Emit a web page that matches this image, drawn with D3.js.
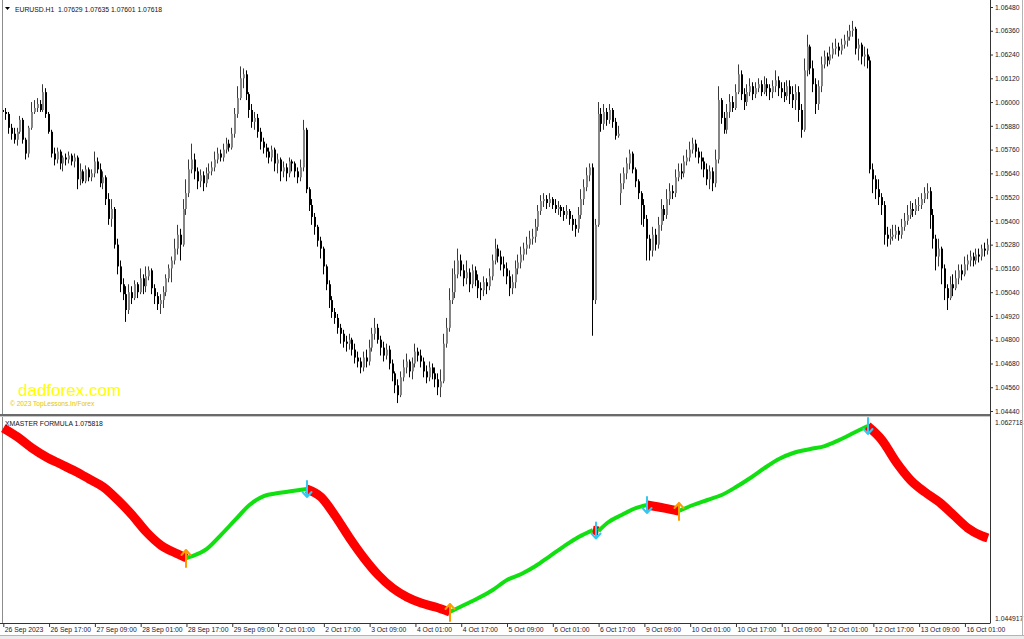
<!DOCTYPE html>
<html>
<head>
<meta charset="utf-8">
<script src="https://cdn.jsdelivr.net/npm/d3@7/dist/d3.min.js"></script>
<style>
  body { margin: 0; background: #fff; overflow: hidden; }
  svg { display: block; font-family: "Liberation Sans", Arial, sans-serif; }
</style>
</head>
<body>
<div id="chart"></div>
<script>
// EURUSD H1, 26 Sep - 16 Oct 2023
const firstOpen = 1.0596;
const gapOpens = { 216: 1.0554 }; // Monday 9 Oct gap

const closes = [
  1.0595,1.0594,1.0587,1.0584,1.0581,1.0585,1.0591,1.0581,1.0574,1.0587,
  1.0595,1.0597,1.0599,1.0596,1.0605,1.0594,1.0585,1.0574,1.0571,1.0575,
  1.0569,1.0572,1.0571,1.0573,1.0570,1.0572,1.0561,1.0565,1.0560,1.0566,
  1.0562,1.0564,1.0570,1.0566,1.0559,1.0562,1.0551,1.0541,1.0546,1.0528,
  1.0517,1.0508,1.0503,1.0495,1.0504,1.0501,1.0508,1.0504,1.0511,1.0507,
  1.0512,1.0515,1.0506,1.0502,1.0498,1.0500,1.0504,1.0511,1.0516,1.0520,1.0526,
  1.0533,1.0528,1.0546,1.0554,1.0566,1.0571,1.0565,1.0560,1.0563,1.0559,
  1.0564,1.0565,1.0567,1.0571,1.0574,1.0572,1.0576,1.0579,1.0577,1.0584,
  1.0594,1.0602,1.0612,1.0614,1.0604,1.0596,1.0590,1.0592,1.0585,1.0580,
  1.0577,1.0575,1.0572,1.0576,1.0569,1.0571,1.0565,1.0567,1.0564,1.0570,
  1.0569,1.0565,1.0562,1.0567,1.0586,1.0556,1.0548,1.0542,1.0537,1.0530,
  1.0526,1.0517,1.0508,1.0500,1.0494,1.0491,1.0486,1.0483,1.0479,1.0478,
  1.0480,1.0475,1.0471,1.0469,1.0466,1.0471,1.0469,1.0476,1.0483,1.0486,
  1.0480,1.0476,1.0472,1.0475,1.0468,1.0463,1.0457,1.0452,1.0461,1.0466,
  1.0469,1.0464,1.0468,1.0474,1.0472,1.0469,1.0464,1.0461,1.0466,1.0463,
  1.0460,1.0456,1.0459,1.0478,1.0486,1.0500,1.0504,1.0513,1.0520,1.0515,
  1.0511,1.0514,1.0508,1.0515,1.0510,1.0506,1.0505,1.0509,1.0507,1.0512,
  1.0520,1.0526,1.0522,1.0518,1.0516,1.0512,1.0506,1.0509,1.0516,1.0519,
  1.0523,1.0526,1.0528,1.0531,1.0532,1.0537,1.0545,1.0550,1.0551,1.0549,
  1.0551,1.0548,1.0546,1.0547,1.0545,1.0543,1.0545,1.0541,1.0538,1.0536,
  1.0543,1.0551,1.0557,1.0563,1.0567,1.0500,1.0538,1.0594,1.0589,1.0595,
  1.0591,1.0596,1.0590,1.0583,1.0584,1.0559,1.0564,1.0569,1.0574,1.0566,
  1.0560,1.0554,1.0548,1.0541,1.0531,1.0525,1.0533,1.0528,1.0538,1.0546,
  1.0543,1.0551,1.0555,1.0554,1.0562,1.0565,1.0564,1.0570,1.0572,1.0576,
  1.0579,1.0575,1.0572,1.0570,1.0566,1.0561,1.0565,1.0559,1.0571,1.0601,
  1.0592,1.0586,1.0595,1.0600,1.0597,1.0605,1.0614,1.0604,1.0600,1.0605,
  1.0608,1.0604,1.0607,1.0609,1.0605,1.0609,1.0607,1.0605,1.0608,1.0611,
  1.0607,1.0605,1.0603,1.0608,1.0604,1.0601,1.0605,1.0596,1.0586,1.0616,1.0628,
  1.0617,1.0609,1.0599,1.0608,1.0619,1.0623,1.0621,1.0624,1.0627,1.0628,
  1.0626,1.0629,1.0631,1.0633,1.0636,1.0637,1.0627,1.0629,1.0623,1.0624,
  1.0621,1.0566,1.0561,1.0556,1.0552,1.0548,1.0533,1.0531,1.0532,1.0533,
  1.0535,1.0533,1.0537,1.0540,1.0543,1.0546,1.0545,1.0548,1.0548,1.0551,
  1.0554,1.0555,1.0543,1.0531,1.0522,1.0526,1.0516,1.0506,1.0501,1.0508,
  1.0506,1.0511,1.0515,1.0513,1.0518,1.0520,1.0522,1.0520,1.0523,1.0522,
  1.0526,1.0525,1.0528
];

const highs = [
  1.0598,1.0597,1.0595,1.0589,1.0587,1.0587,1.0593,1.0592,1.0582,1.0588,
  1.0600,1.0601,1.0602,1.0601,1.0609,1.0607,1.0595,1.0586,1.0577,1.0577,
  1.0576,1.0573,1.0574,1.0575,1.0574,1.0574,1.0573,1.0569,1.0566,1.0568,
  1.0567,1.0566,1.0575,1.0572,1.0569,1.0565,1.0563,1.0554,1.0551,1.0547,
  1.0531,1.0520,1.0511,1.0507,1.0508,1.0507,1.0510,1.0509,1.0516,1.0513,
  1.0517,1.0517,1.0516,1.0508,1.0504,1.0503,1.0507,1.0513,1.0518,1.0522,1.0531,
  1.0538,1.0536,1.0551,1.0561,1.0571,1.0579,1.0574,1.0567,1.0566,1.0565,
  1.0567,1.0569,1.0570,1.0575,1.0577,1.0576,1.0579,1.0582,1.0581,1.0587,
  1.0597,1.0608,1.0618,1.0617,1.0616,1.0605,1.0599,1.0595,1.0594,1.0587,
  1.0582,1.0579,1.0577,1.0578,1.0577,1.0574,1.0572,1.0570,1.0569,1.0572,
  1.0571,1.0570,1.0567,1.0571,1.0591,1.0587,1.0557,1.0551,1.0544,1.0538,
  1.0532,1.0527,1.0518,1.0510,1.0502,1.0496,1.0493,1.0488,1.0485,1.0482,
  1.0483,1.0481,1.0478,1.0474,1.0471,1.0474,1.0475,1.0480,1.0486,1.0491,
  1.0488,1.0482,1.0479,1.0478,1.0477,1.0470,1.0464,1.0460,1.0464,1.0470,
  1.0473,1.0470,1.0471,1.0478,1.0476,1.0475,1.0471,1.0467,1.0469,1.0468,
  1.0466,1.0463,1.0465,1.0483,1.0491,1.0506,1.0516,1.0520,1.0526,1.0523,
  1.0518,1.0520,1.0516,1.0518,1.0517,1.0513,1.0509,1.0512,1.0511,1.0516,
  1.0523,1.0531,1.0528,1.0525,1.0522,1.0519,1.0515,1.0513,1.0520,1.0523,
  1.0527,1.0529,1.0532,1.0535,1.0536,1.0541,1.0548,1.0553,1.0554,1.0553,
  1.0554,1.0552,1.0551,1.0550,1.0548,1.0547,1.0548,1.0546,1.0543,1.0541,
  1.0547,1.0556,1.0561,1.0567,1.0569,1.0569,1.0541,1.0600,1.0597,1.0599,
  1.0597,1.0599,1.0597,1.0592,1.0588,1.0564,1.0567,1.0572,1.0576,1.0575,
  1.0567,1.0561,1.0555,1.0551,1.0543,1.0533,1.0537,1.0536,1.0542,1.0551,
  1.0548,1.0556,1.0559,1.0558,1.0566,1.0569,1.0569,1.0573,1.0576,1.0580,
  1.0582,1.0581,1.0577,1.0575,1.0572,1.0569,1.0568,1.0567,1.0576,1.0608,
  1.0602,1.0595,1.0599,1.0604,1.0603,1.0609,1.0619,1.0616,1.0607,1.0609,
  1.0612,1.0610,1.0610,1.0612,1.0611,1.0613,1.0612,1.0609,1.0611,1.0616,
  1.0613,1.0610,1.0610,1.0611,1.0611,1.0608,1.0609,1.0608,1.0599,1.0622,1.0634,
  1.0629,1.0621,1.0612,1.0611,1.0623,1.0626,1.0625,1.0628,1.0630,1.0632,
  1.0630,1.0632,1.0634,1.0636,1.0639,1.0641,1.0638,1.0632,1.0630,1.0628,
  1.0627,1.0623,1.0569,1.0563,1.0561,1.0554,1.0550,1.0537,1.0536,1.0538,
  1.0538,1.0537,1.0541,1.0544,1.0548,1.0550,1.0549,1.0551,1.0552,1.0554,
  1.0557,1.0559,1.0557,1.0546,1.0533,1.0531,1.0527,1.0518,1.0508,1.0512,
  1.0513,1.0515,1.0518,1.0518,1.0522,1.0523,1.0525,1.0524,1.0526,1.0526,
  1.0528,1.0529,1.0531
];

const lows = [
  1.0592,1.0591,1.0584,1.0581,1.0579,1.0578,1.0584,1.0579,1.0571,1.0572,
  1.0586,1.0594,1.0595,1.0595,1.0595,1.0592,1.0584,1.0572,1.0568,1.0569,
  1.0566,1.0565,1.0568,1.0569,1.0568,1.0567,1.0556,1.0558,1.0559,1.0559,
  1.0560,1.0560,1.0562,1.0564,1.0557,1.0556,1.0548,1.0538,1.0537,1.0526,
  1.0513,1.0504,1.0500,1.0489,1.0493,1.0498,1.0500,1.0501,1.0503,1.0503,
  1.0504,1.0510,1.0503,1.0498,1.0495,1.0493,1.0496,1.0502,1.0509,1.0509,1.0518,
  1.0523,1.0520,1.0527,1.0543,1.0552,1.0564,1.0561,1.0556,1.0557,1.0555,
  1.0557,1.0561,1.0563,1.0565,1.0569,1.0570,1.0570,1.0574,1.0575,1.0576,
  1.0582,1.0592,1.0601,1.0607,1.0601,1.0592,1.0587,1.0586,1.0582,1.0576,
  1.0574,1.0572,1.0569,1.0570,1.0565,1.0564,1.0560,1.0562,1.0560,1.0562,
  1.0565,1.0562,1.0559,1.0560,1.0565,1.0554,1.0545,1.0538,1.0533,1.0527,
  1.0521,1.0513,1.0505,1.0496,1.0491,1.0488,1.0483,1.0478,1.0476,1.0474,
  1.0475,1.0472,1.0468,1.0466,1.0463,1.0464,1.0466,1.0467,1.0474,1.0480,
  1.0478,1.0472,1.0469,1.0470,1.0465,1.0459,1.0453,1.0448,1.0451,1.0459,
  1.0463,1.0461,1.0460,1.0466,1.0469,1.0466,1.0461,1.0458,1.0459,1.0460,
  1.0456,1.0452,1.0451,1.0458,1.0476,1.0484,1.0498,1.0501,1.0511,1.0512,
  1.0507,1.0508,1.0504,1.0506,1.0507,1.0501,1.0500,1.0502,1.0503,1.0505,
  1.0510,1.0518,1.0519,1.0515,1.0512,1.0508,1.0502,1.0503,1.0506,1.0513,
  1.0516,1.0520,1.0523,1.0526,1.0528,1.0529,1.0535,1.0543,1.0547,1.0546,
  1.0547,1.0546,1.0544,1.0543,1.0542,1.0540,1.0541,1.0538,1.0535,1.0532,
  1.0534,1.0541,1.0548,1.0555,1.0560,1.0482,1.0498,1.0537,1.0585,1.0586,
  1.0588,1.0589,1.0587,1.0581,1.0582,1.0548,1.0556,1.0561,1.0566,1.0564,
  1.0557,1.0551,1.0538,1.0537,1.0520,1.0520,1.0522,1.0525,1.0526,1.0535,
  1.0540,1.0541,1.0548,1.0551,1.0552,1.0560,1.0561,1.0562,1.0568,1.0570,
  1.0574,1.0572,1.0569,1.0566,1.0562,1.0558,1.0556,1.0555,1.0557,1.0569,
  1.0589,1.0584,1.0584,1.0592,1.0595,1.0596,1.0604,1.0601,1.0596,1.0598,
  1.0603,1.0601,1.0602,1.0605,1.0603,1.0604,1.0603,1.0601,1.0602,1.0605,
  1.0603,1.0602,1.0600,1.0601,1.0599,1.0597,1.0596,1.0590,1.0582,1.0585,1.0613,
  1.0614,1.0605,1.0594,1.0596,1.0605,1.0617,1.0618,1.0619,1.0622,1.0624,
  1.0623,1.0624,1.0627,1.0628,1.0631,1.0633,1.0624,1.0621,1.0619,1.0618,
  1.0617,1.0564,1.0554,1.0551,1.0548,1.0543,1.0528,1.0527,1.0528,1.0530,
  1.0531,1.0530,1.0531,1.0535,1.0538,1.0541,1.0542,1.0543,1.0545,1.0546,
  1.0549,1.0551,1.0536,1.0526,1.0515,1.0517,1.0508,1.0500,1.0495,1.0500,
  1.0502,1.0505,1.0508,1.0510,1.0512,1.0515,1.0517,1.0517,1.0518,1.0519,
  1.0520,1.0522,1.0523
];

// XMASTER FORMULA line, sampled at these bars
const indBars = [
  0,5,10,15,20,25,30,35,40,45,50,55,61,64,66,71,76,81,86,91,
  96,101,106,111,116,121,126,131,136,141,146,151,156,161,166,171,176,181,186,191,
  196,201,206,208,211,216,221,225,231,236,241,246,251,256,261,266,271,276,282,287,
  292,297,302,307,312,317,322,327,332,337,342,344
];
const indValues = [
  1.06192,1.06113,1.06016,1.05937,1.05875,1.05813,1.05743,1.05672,1.05558,1.05426,
  1.05276,1.05161,1.05082,1.05047,1.05064,1.05126,1.05249,1.05382,1.05514,1.05593,
  1.05619,1.05637,1.05655,1.05584,1.05417,1.05223,1.05047,1.04897,1.04782,1.04703,
  1.04650,1.04615,1.04571,1.04633,1.04694,1.04765,1.04853,1.04906,1.04976,1.05064,
  1.05152,1.05232,1.05293,1.05285,1.05355,1.05426,1.05487,1.05514,1.05487,1.05461,
  1.05514,1.05558,1.05602,1.05672,1.05752,1.05840,1.05919,1.05972,1.06007,1.06033,
  1.06086,1.06148,1.06210,1.06086,1.05892,1.05734,1.05628,1.05540,1.05426,1.05311,
  1.05241,1.05223
];
const upArrowBars = [64, 156, 236];
const downArrowBars = [106, 207, 225, 302];

const priceTicks = [1.0444,1.0456,1.0468,1.0480,1.0492,1.0504,1.0516,1.0528,1.0540,
  1.0552,1.0564,1.0576,1.0588,1.0600,1.0612,1.0624,1.0636,1.0648];
const indMax = 1.062718;
const indMin = 1.044917;

const timeTickBars = [0,16,32,48,64,80,96,112,128,144,160,176,192,208,224,240,256,272,288,304,320,336];
const timeLabels = ['26 Sep 2023','26 Sep 17:00','27 Sep 09:00','28 Sep 01:00','28 Sep 17:00',
  '29 Sep 09:00','2 Oct 01:00','2 Oct 17:00','3 Oct 09:00','4 Oct 01:00','4 Oct 17:00',
  '5 Oct 09:00','6 Oct 01:00','6 Oct 17:00','9 Oct 09:00','10 Oct 01:00','10 Oct 17:00',
  '11 Oct 09:00','12 Oct 01:00','12 Oct 17:00','13 Oct 09:00','16 Oct 01:00'];

// layout
const W = 1024, H = 639;
const AXIS_X = 990;
const MAIN_TOP = 7, MAIN_BOT = 411;     // pixel rows of 1.06480 / 1.04440
const SEP_Y = 414;
const IND_TOP = 419, IND_BOT = 621;
const TIME_Y = 623;
const BAR_X0 = 3.3, BAR_STEP = 2.862;
const FONT = 6.8;

const N = closes.length;
const opens = closes.map((c, i) => i === 0 ? firstOpen : (gapOpens[i] !== undefined ? gapOpens[i] : closes[i - 1]));

const x = d3.scaleLinear().domain([0, N - 1]).range([BAR_X0, BAR_X0 + BAR_STEP * (N - 1)]);
const yMain = d3.scaleLinear().domain([1.0444, 1.0648]).range([MAIN_BOT, MAIN_TOP]);
const yInd = d3.scaleLinear().domain([indMin, indMax]).range([IND_BOT, IND_TOP]);

const svg = d3.select('#chart').append('svg')
  .attr('width', W)
  .attr('height', H);

svg.append('rect').attr('width', W).attr('height', H).attr('fill', '#fff');

// candles
const bars = closes.map((c, i) => ({ i, o: opens[i], h: highs[i], l: lows[i], c }));
const candle = svg.append('g').selectAll('g')
  .data(bars)
  .enter()
  .append('g');

candle.append('line')
  .attr('x1', d => Math.round(x(d.i)) - 0.5)
  .attr('x2', d => Math.round(x(d.i)) - 0.5)
  .attr('y1', d => yMain(Math.max(d.h, d.o, d.c)))
  .attr('y2', d => yMain(Math.min(d.l, d.o, d.c)))
  .attr('stroke', d => d.c >= d.o ? '#3a3a3a' : '#000')
  .attr('stroke-width', 1);

candle.append('rect')
  .attr('x', d => Math.round(x(d.i)) - 1)
  .attr('width', 2)
  .attr('y', d => yMain(Math.max(d.o, d.c)))
  .attr('height', d => Math.max(1, Math.abs(yMain(d.o) - yMain(d.c))))
  .attr('fill', d => d.c >= d.o ? '#858585' : '#000');

// header
svg.append('path')
  .attr('d', 'M5,7 L10,7 L7.5,10 Z')
  .attr('fill', '#000');
svg.append('text')
  .attr('x', 15).attr('y', 11.5)
  .style('white-space', 'pre')
  .attr('font-size', FONT)
  .attr('fill', '#111')
  .text('EURUSD.H1  1.07629 1.07635 1.07601 1.07618');

// watermark
svg.append('text')
  .attr('x', 18).attr('y', 396)
  .attr('font-size', 17)
  .attr('fill', '#ffff00')
  .text('dadforex.com');
svg.append('text')
  .attr('x', 10).attr('y', 406)
  .attr('font-size', 6.6)
  .attr('fill', '#e3c500')
  .text('\u00a9 2023 TopLessons.In/Forex');

// panel frame
svg.append('line')
  .attr('x1', 2.5).attr('x2', 2.5).attr('y1', 0).attr('y2', TIME_Y)
  .attr('stroke', '#8c8c8c');
svg.append('rect')
  .attr('x', 0).attr('y', SEP_Y).attr('width', AXIS_X).attr('height', 2)
  .attr('fill', '#6a6a6a');
svg.append('line')
  .attr('x1', 0).attr('x2', AXIS_X).attr('y1', SEP_Y + 2.5).attr('y2', SEP_Y + 2.5)
  .attr('stroke', '#c8c8c8');
svg.append('line')
  .attr('x1', AXIS_X + 0.5).attr('x2', AXIS_X + 0.5).attr('y1', 0).attr('y2', TIME_Y)
  .attr('stroke', '#333');

// indicator line: thick red while falling, thin green while rising
const ind = indBars.map((b, k) => ({ b, v: indValues[k] }));
const runs = [];
for (let k = 1; k < ind.length; k++) {
  const dir = ind[k].v < ind[k - 1].v ? 'down' : 'up';
  const last = runs[runs.length - 1];
  if (last && last.dir === dir) last.pts.push(ind[k]);
  else runs.push({ dir, pts: [ind[k - 1], ind[k]] });
}
const indLine = d3.line()
  .x(d => x(d.b))
  .y(d => yInd(d.v))
  .curve(d3.curveMonotoneX);

const indG = svg.append('g');
indG.selectAll('path')
  .data(runs)
  .enter()
  .append('path')
  .attr('d', d => indLine(d.pts))
  .attr('fill', 'none')
  .attr('stroke', d => d.dir === 'down' ? '#ff0000' : '#10e010')
  .attr('stroke-width', d => d.dir === 'down' ? 9 : 4)
  .attr('stroke-linejoin', 'round');

function indAt(b) {
  const k = Math.max(1, d3.bisectLeft(indBars, b));
  const b0 = indBars[k - 1], b1 = indBars[k];
  const t = b1 === b0 ? 0 : (b - b0) / (b1 - b0);
  return indValues[k - 1] + t * (indValues[k] - indValues[k - 1]);
}

// signal arrows
const arrowG = svg.append('g')
  .attr('fill', 'none')
  .attr('stroke-width', 2)
  .attr('stroke-linecap', 'round')
  .attr('stroke-linejoin', 'round');
upArrowBars.forEach(b => {
  const cx = Math.round(x(b)), cy = yInd(indAt(b));
  arrowG.append('path')
    .attr('d', `M${cx},${cy + 9} L${cx},${cy - 8} M${cx - 4.5},${cy - 3} L${cx},${cy - 8} L${cx + 4.5},${cy - 3}`)
    .attr('stroke', '#ff9a00');
});
downArrowBars.forEach(b => {
  const cx = Math.round(x(b)), cy = yInd(indAt(b));
  arrowG.append('path')
    .attr('d', `M${cx},${cy - 8} L${cx},${cy + 8} M${cx - 4.5},${cy + 3} L${cx},${cy + 8} L${cx + 4.5},${cy + 3}`)
    .attr('stroke', '#33c8f0');
});

svg.append('text')
  .attr('x', 5).attr('y', 426)
  .attr('font-size', FONT)
  .attr('fill', '#111')
  .text('XMASTER FORMULA 1.075818');

// price axis
const priceAxis = svg.append('g')
  .attr('transform', `translate(${AXIS_X},0)`)
  .call(d3.axisRight(yMain).tickValues(priceTicks).tickFormat(d3.format('.5f')).tickSize(3).tickPadding(2));
priceAxis.select('.domain').remove();

const indAxis = svg.append('g')
  .attr('transform', `translate(${AXIS_X},0)`)
  .call(d3.axisRight(yInd).tickValues([indMax, indMin]).tickFormat(d3.format('.6f')).tickSize(0).tickPadding(5));
indAxis.select('.domain').remove();
indAxis.selectAll('.tick text')
  .attr('dy', d => d === indMax ? '0.75em' : '-0.1em');

// time axis
const timeAxis = svg.append('g')
  .attr('transform', `translate(0,${TIME_Y})`)
  .call(d3.axisBottom(x).tickValues(timeTickBars).tickFormat((d, i) => timeLabels[i]).tickSize(4));
timeAxis.select('.domain')
  .attr('d', `M0,0.5H${AXIS_X + 0.5}`);
timeAxis.selectAll('.tick text')
  .attr('text-anchor', 'start')
  .attr('x', 1)
  .attr('y', 9)
  .attr('dy', null);

svg.selectAll('.tick text')
  .attr('font-family', '"Liberation Sans", Arial, sans-serif')
  .attr('font-size', FONT)
  .attr('fill', '#18202e');
svg.selectAll('.tick line').attr('stroke', '#333');
svg.selectAll('.domain').attr('stroke', '#333');

// bottom status strip and right edge
svg.append('rect')
  .attr('x', 0).attr('y', 635).attr('width', W).attr('height', 4)
  .attr('fill', '#ececec');
svg.append('line')
  .attr('x1', 0).attr('x2', W).attr('y1', 635.5).attr('y2', 635.5)
  .attr('stroke', '#b4b4b4');
svg.append('line')
  .attr('x1', W - 1.5).attr('x2', W - 1.5).attr('y1', 0).attr('y2', 635)
  .attr('stroke', '#b4b4b4');
</script>
</body>
</html>
